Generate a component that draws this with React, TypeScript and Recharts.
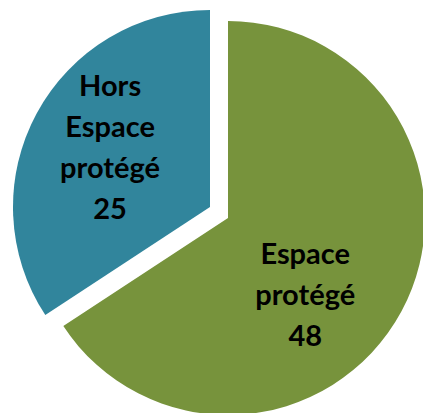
import { PieChart, Pie, Cell } from "recharts";

const names = ["Espace protégé", "Hors Espace protégé"];
const values = [48, 25];
const colors = ["#77933C", "#31859C"];

const data = names.map((name, i) => ({ name, value: values[i] }));

// label placement per slice: angle tweak (deg) and distance from slice centre
const place = [
  { dAngle: -16, dist: 108 },
  { dAngle: -3, dist: 117 },
];
const RAD = Math.PI / 180;

function makeLabel(only: number) {
  return (props: any) => {
    const { cx, cy, midAngle, index } = props;
    if (index !== only) return null;
    const p = place[index];
    const a = (midAngle + p.dAngle) * RAD;
    const x = cx + p.dist * Math.cos(a);
    const y = cy - p.dist * Math.sin(a);
    const lines = [...data[index].name.split(" "), String(data[index].value)];
    return (
      <text
        x={x}
        y={y}
        textAnchor="middle"
        fill="#000"
        fontFamily="Lato, sans-serif"
        fontWeight="bold"
        fontSize={29}
      >
        {lines.map((t, i) => (
          <tspan key={i} x={x} y={y + (i - (lines.length - 1) / 2) * 41} dominantBaseline="central">
            {t}
          </tspan>
        ))}
      </text>
    );
  };
}

export default function App() {
  return (
    <div style={{ position: "absolute", left: 0, top: 0, width: 423, height: 413, background: "#fff" }}>
      <PieChart width={423} height={413} margin={{ top: 0, right: 0, bottom: 0, left: 0 }}>
        <Pie
          data={data}
          dataKey="value"
          cx={228}
          cy={218}
          outerRadius={197}
          startAngle={90}
          endAngle={-270}
          stroke="none"
          label={makeLabel(0)}
          labelLine={false}
          isAnimationActive={false}
        >
          {data.map((d, i) => (
            <Cell key={d.name} fill={i === 0 ? colors[0] : "transparent"} />
          ))}
        </Pie>
        <Pie
          data={data}
          dataKey="value"
          cx={210}
          cy={207}
          outerRadius={197}
          startAngle={90}
          endAngle={-270}
          stroke="none"
          label={makeLabel(1)}
          labelLine={false}
          isAnimationActive={false}
        >
          {data.map((d, i) => (
            <Cell key={d.name} fill={i === 1 ? colors[1] : "transparent"} />
          ))}
        </Pie>
      </PieChart>
    </div>
  );
}
